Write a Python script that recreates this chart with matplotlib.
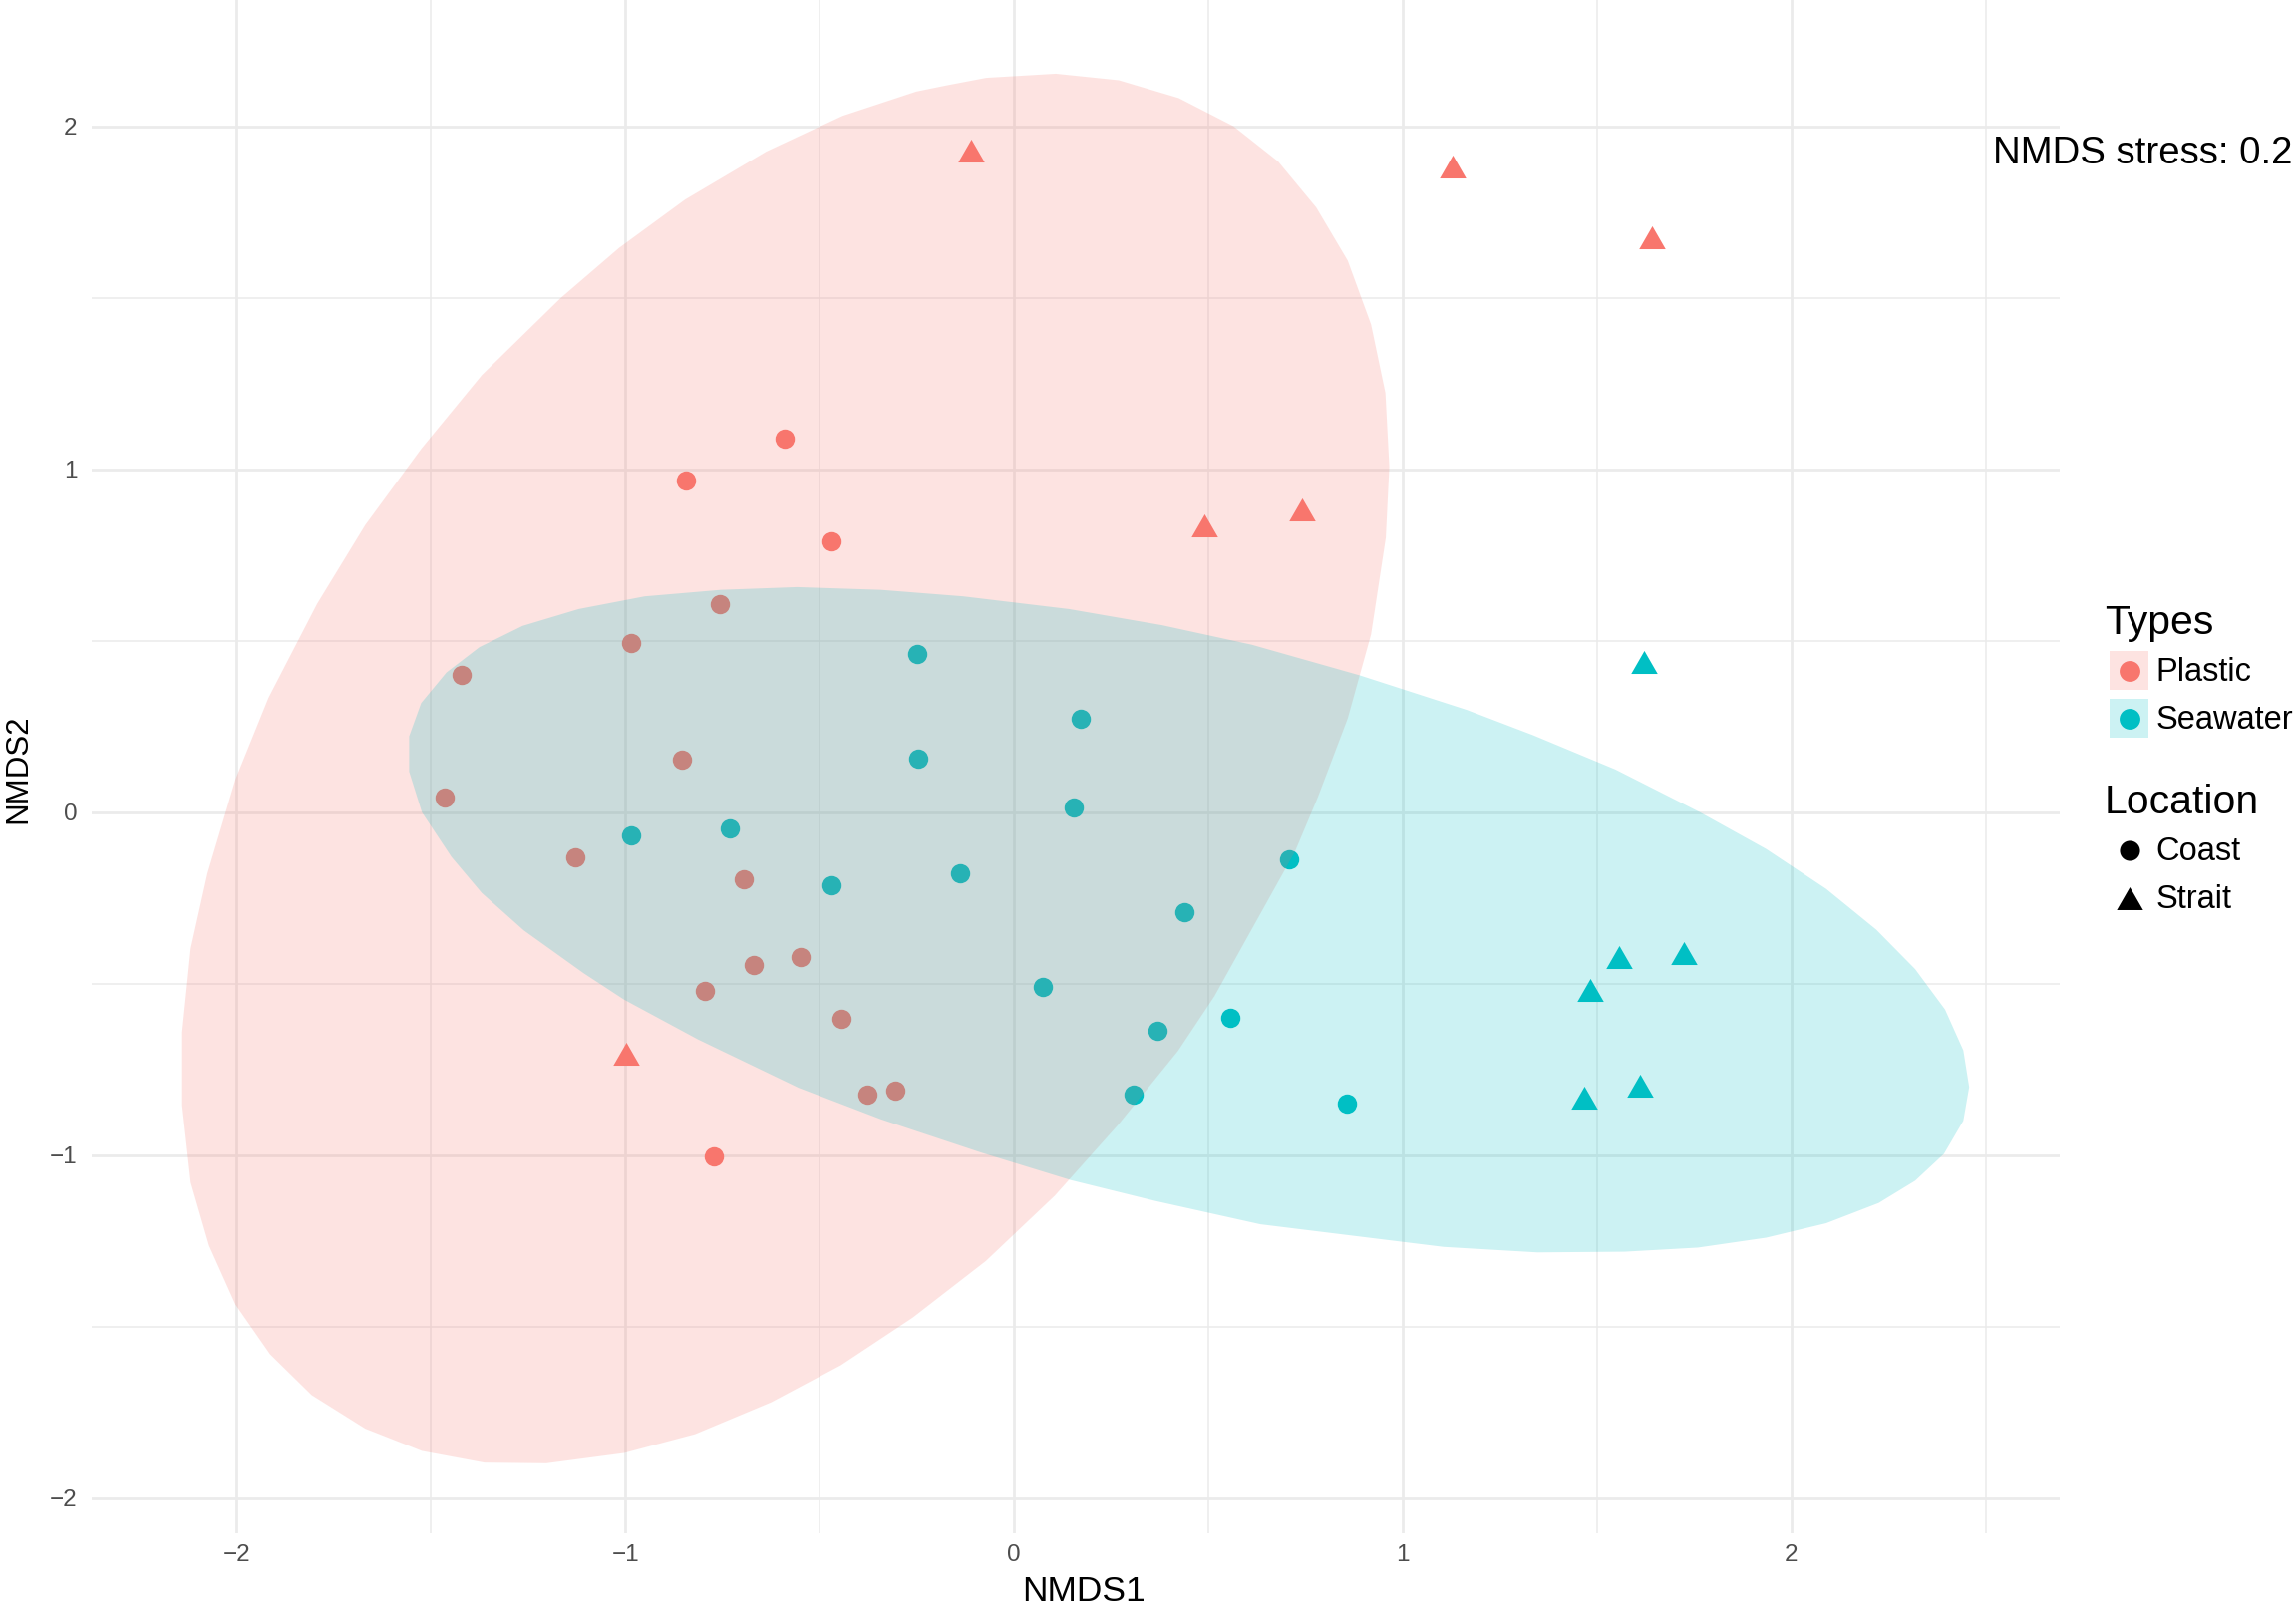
# NMDS ordination of plastic and seawater samples
import matplotlib
matplotlib.use('Agg')
import matplotlib.pyplot as plt
from matplotlib.legend_handler import HandlerLine2D, HandlerTuple
from matplotlib.lines import Line2D
from matplotlib.patches import Patch

plt.rcParams['font.family'] = ['Liberation Sans', 'DejaVu Sans']

# Sample scores
plastic_coast_x = [-0.591, -0.843, -0.470, -0.756, -0.986, -1.422, -0.854, -1.464, -1.129,
                   -0.696, -0.549, -0.670, -0.794, -0.444, -0.376, -0.305, -0.771]
plastic_coast_y = [1.089, 0.969, 0.790, 0.606, 0.495, 0.401, 0.154, 0.043, -0.132,
                   -0.196, -0.423, -0.444, -0.521, -0.602, -0.824, -0.811, -1.003]
plastic_strait_x = [-0.109, 1.129, 1.641, 0.489, 0.741, -0.997]
plastic_strait_y = [1.930, 1.883, 1.678, 0.837, 0.884, -0.704]
seawater_coast_x = [-0.248, 0.173, -0.245, 0.154, -0.986, -0.730, -0.470, -0.139,
                    0.707, 0.440, 0.075, 0.557, 0.369, 0.309, 0.858]
seawater_coast_y = [0.461, 0.273, 0.158, 0.013, -0.068, -0.047, -0.213, -0.179,
                    -0.137, -0.290, -0.508, -0.598, -0.636, -0.824, -0.850]
seawater_strait_x = [1.622, 1.723, 1.558, 1.483, 1.611, 1.468]
seawater_strait_y = [0.440, -0.410, -0.423, -0.517, -0.798, -0.832]

# Ellipse outlines, clockwise
plastic_ellipse_x = [-0.173, -0.071, 0.108, 0.270, 0.424, 0.565, 0.680, 0.778, 0.859, 0.919, 0.956,
                     0.966, 0.957, 0.919, 0.859, 0.782, 0.723, 0.516, 0.422, 0.269, 0.105, -0.072,
                     -0.260, -0.445, -0.624, -0.820, -1.003, -1.203, -1.362, -1.523, -1.669, -1.807,
                     -1.914, -2.003, -2.071, -2.118, -2.140, -2.140, -2.118, -2.075, -2.003, -1.918,
                     -1.793, -1.669, -1.525, -1.369, -1.166, -1.016, -0.846, -0.637, -0.441, -0.251]
plastic_ellipse_y = [2.120, 2.142, 2.154, 2.135, 2.083, 2.001, 1.898, 1.764, 1.609, 1.423, 1.223,
                     1.008, 0.801, 0.519, 0.274, 0.044, -0.115, -0.536, -0.696, -0.910, -1.118, -1.308,
                     -1.473, -1.612, -1.720, -1.813, -1.868, -1.898, -1.896, -1.862, -1.797, -1.699,
                     -1.580, -1.435, -1.263, -1.079, -0.854, -0.641, -0.397, -0.178, 0.096, 0.334,
                     0.608, 0.838, 1.060, 1.275, 1.500, 1.646, 1.787, 1.927, 2.031, 2.102]
seawater_ellipse_x = [-1.556, -1.556, -1.525, -1.460, -1.375, -1.264, -1.120, -0.950, -0.754, -0.558,
                      -0.342, -0.130, 0.142, 0.381, 0.612, 0.889, 1.165, 1.336, 1.548, 1.766, 1.936,
                      2.090, 2.219, 2.319, 2.396, 2.443, 2.458, 2.443, 2.393, 2.319, 2.225, 2.090,
                      1.936, 1.760, 1.571, 1.347, 1.106, 0.870, 0.634, 0.364, 0.146, -0.084, -0.342,
                      -0.554, -0.813, -1.003, -1.107, -1.261, -1.369, -1.447, -1.523]
seawater_ellipse_y = [0.119, 0.222, 0.319, 0.408, 0.482, 0.544, 0.593, 0.630, 0.649, 0.657,
                      0.649, 0.630, 0.593, 0.546, 0.489, 0.400, 0.299, 0.225, 0.125, 0.000, -0.107,
                      -0.223, -0.342, -0.457, -0.575, -0.694, -0.801, -0.899, -0.996, -1.074, -1.139, -1.198,
                      -1.240, -1.269, -1.281, -1.283, -1.267, -1.234, -1.201, -1.133, -1.072, -0.992, -0.895,
                      -0.803, -0.662, -0.546, -0.469, -0.344, -0.235, -0.130, 0.000]

major_ticks = [-2, -1, 0, 1, 2]
minor_x = [-1.5, -0.5, 0.5, 1.5, 2.5]
minor_y = [-1.5, -0.5, 0.5, 1.5]

PINK = '#F8766D'
TEAL = '#00BFC4'
W, H = 2303, 1611
# Triangle is wider than tall in the reference
TRI = [(-1, -0.87), (1, -0.87), (0, 0.87)]

fig = plt.figure(figsize=(W / 100, H / 100), dpi=100)
ax = fig.add_axes([91.5 / W, 1 - 1538 / H, (2066 - 91.5) / W, 1538 / H])

# Points go under the ellipses, so the fills tint them
ax.scatter(plastic_coast_x, plastic_coast_y, s=196, marker='o', color=PINK, linewidths=0, zorder=2)
ax.scatter(plastic_strait_x, plastic_strait_y, s=364, marker=TRI, color=PINK, linewidths=0, zorder=2)
ax.scatter(seawater_coast_x, seawater_coast_y, s=196, marker='o', color=TEAL, linewidths=0, zorder=2)
ax.scatter(seawater_strait_x, seawater_strait_y, s=364, marker=TRI, color=TEAL, linewidths=0, zorder=2)

ax.fill(plastic_ellipse_x, plastic_ellipse_y, color=PINK, alpha=0.2, linewidth=0, zorder=3)
ax.fill(seawater_ellipse_x, seawater_ellipse_y, color=TEAL, alpha=0.2, linewidth=0, zorder=4)

ax.set_xlim(-2.374, 2.691)
ax.set_ylim(-2.102, 2.369)
ax.set_xticks(major_ticks)
ax.set_yticks(major_ticks)
ax.set_xticks(minor_x, minor=True)
ax.set_yticks(minor_y, minor=True)
ax.grid(True, which='major', color='#EBEBEB', linewidth=2.0)
ax.grid(True, which='minor', color='#EBEBEB', linewidth=1.1)
ax.set_axisbelow(True)
ax.tick_params(which='both', length=0)
ax.tick_params(which='major', labelsize=17.5, labelcolor='#4D4D4D', pad=10)
ax.tick_params(axis='x', which='major', pad=8)
for side in ax.spines.values():
    side.set_visible(False)

fig.text(1087 / W, 1 - 1597 / H, 'NMDS1', fontsize=25.5, ha='center', va='center')
fig.text(18 / W, 1 - 771 / H, 'NMDS2', fontsize=22.5, rotation=90, ha='center', va='center')
fig.text(1999 / W, 1 - 154 / H, 'NMDS stress: 0.2', fontsize=27.6, ha='left', va='center')


class CentredLine(HandlerLine2D):
    # Put the marker in the middle of the key box
    def create_artists(self, legend, orig_handle, xdescent, ydescent, width, height, fontsize, trans):
        return super().create_artists(legend, orig_handle, xdescent, ydescent, width,
                                      height - ydescent, fontsize, trans)


def key(colour):
    box = Patch(facecolor=colour, alpha=0.2, linewidth=0)
    dot = Line2D([], [], marker='o', markersize=15, color=colour, linestyle='none', markeredgewidth=0)
    return (box, dot)


legend_style = dict(loc='upper left', borderaxespad=0, borderpad=0, frameon=False, fontsize=23.5,
                    title_fontsize=29.5, alignment='left', handlelength=1.195, handleheight=1.463,
                    handletextpad=0.235, labelspacing=0.276,
                    handler_map={tuple: HandlerTuple(ndivide=1, pad=0), Line2D: CentredLine()})

types_legend = fig.legend(
    handles=[key(PINK), key(TEAL)], labels=['Plastic', 'Seawater'], title='Types',
    bbox_to_anchor=(2116 / W, 1 - 606 / H), **legend_style)

black_dot = Line2D([], [], marker='o', markersize=14.5, color='black', linestyle='none', markeredgewidth=0)
black_tri = Line2D([], [], marker=TRI, markersize=19, color='black', linestyle='none', markeredgewidth=0)
location_legend = fig.legend(
    handles=[black_dot, black_tri], labels=['Coast', 'Strait'], title='Location',
    bbox_to_anchor=(2116 / W, 1 - 786 / H), **legend_style)

# Titles sit a little left of the keys
types_legend.get_title().set_position((-5, 0))
location_legend.get_title().set_position((-5, 0))

fig.savefig('out.png', dpi=100)
